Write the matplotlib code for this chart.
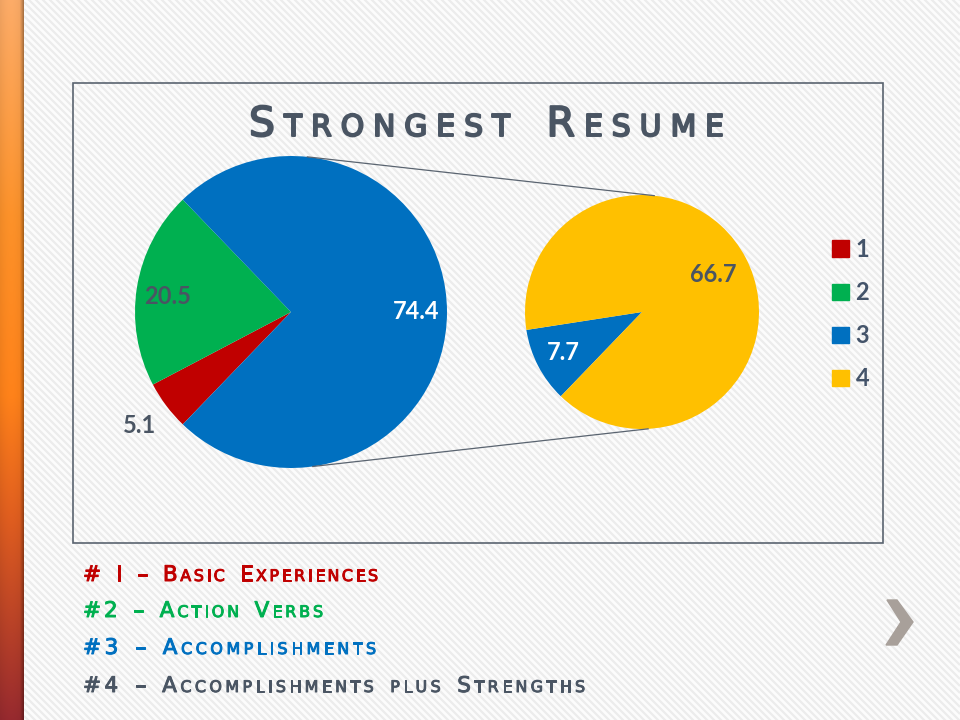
import numpy as np
import matplotlib
matplotlib.use('Agg')
import matplotlib.pyplot as plt
import matplotlib.patheffects as pe
from matplotlib.patches import Rectangle, Polygon, Patch
from matplotlib.collections import LineCollection

# data
main_labels = ['1', '2', 'Other']
main_values = [5.1, 20.5, 74.4]
sub_labels = ['3', '4']
sub_values = [7.7, 66.7]
legend_labels = ['1', '2', '3', '4']
colors = ['#c00000', '#00b050', '#0070c0', '#ffc000']

title = 'Strongest Resume'
notes = ['# I – Basic Experiences', '#2 – Action Verbs',
         '#3 – Accomplishments', '#4 – Accomplishments plus Strengths']
note_colors = ['#c00000', '#00b050', '#0070c0', '#4a5563']

gray = '#44546a'
H = 720

fig = plt.figure(figsize=(9.6, 7.2), dpi=100)
fig.patch.set_facecolor('#fcfcfc')
ax = fig.add_axes([0, 0, 1, 1])
ax.axis('off')
renderer = fig.canvas.get_renderer()

# striped background
segs = [[(24, c - 24), (960, c - 960)] for c in range(0, 1700, 7)]
ax.add_collection(LineCollection(segs, colors='#ececec', linewidths=1.6, zorder=0))

# orange bar on the left
yy = np.linspace(0, 1, 720)
stops = np.array([0, 0.3, 0.55, 0.72, 1.0])
cols = np.array([[0.97, 0.66, 0.40], [0.97, 0.56, 0.16], [0.98, 0.50, 0.10],
                 [0.86, 0.36, 0.12], [0.58, 0.16, 0.18]])
grad = np.stack([np.interp(yy, stops, cols[:, k]) for k in range(3)], axis=1)
xx = np.linspace(0, 1, 24)
shade = 0.92 + 0.1 * np.sin(np.pi * (0.15 + 0.75 * xx))
shade[-4:] *= np.array([0.95, 0.88, 0.8, 0.72])
img = np.clip(grad[:, None, :] * shade[None, :, None], 0, 1)
ax.imshow(img, extent=(0, 24, 0, H), zorder=1, interpolation='bilinear')

# chart frame
ax.add_patch(Rectangle((73, H - 543), 810, 460, fill=False, edgecolor='#5a6470', lw=1.2, zorder=2))


def smallcaps(x0, y, s, size, color, width=None, ratio=0.74, thick=1.0):
    items = []
    for ch in s:
        if ch == ' ':
            items.append((None, size * 0.45 * 100 / 72))
            continue
        big = not ch.islower()
        t = ax.text(0, y, ch.upper(), fontsize=size if big else size * ratio,
                    color=color, family='DejaVu Sans', ha='left', va='baseline', zorder=5,
                    path_effects=[pe.withStroke(linewidth=thick, foreground=color)])
        items.append((t, t.get_window_extent(renderer).width))
    natural = sum(w for _, w in items)
    gap = 0 if width is None else (width - natural) / (len(items) - 1)
    cx = x0
    for t, w in items:
        if t is not None:
            t.set_x(cx)
        cx += w + gap


smallcaps(249, H - 136, title, 29.5, '#4a5563', width=475, ratio=0.73, thick=1.4)

note_base = [581, 617, 654, 692]
note_end = [378, 323, 376, 585]
for s, c, b, e in zip(notes, note_colors, note_base, note_end):
    smallcaps(83, H - b, s, 15.5, c, width=e - 83, thick=0.7)

# pie of pie
S = 360 * (main_values[0] + main_values[1]) / sum(main_values) + 180 * main_values[2] / sum(main_values)
c1, r1 = (291, H - 312), 156
c2, r2 = (642, H - 312), 117
w1, _ = ax.pie(main_values, colors=colors[:3], startangle=S, counterclock=False,
               center=c1, radius=r1, wedgeprops=dict(linewidth=0), frame=True)
w2, _ = ax.pie(sub_values, colors=colors[2:], startangle=S, counterclock=False,
               center=c2, radius=r2, wedgeprops=dict(linewidth=0), frame=True)


def label(w, c, r, val, f, color, da=0):
    a = np.deg2rad((w.theta1 + w.theta2) / 2 + da)
    ax.text(c[0] + f * r * np.cos(a), c[1] + f * r * np.sin(a), f'{val}',
            ha='center', va='center', fontsize=17, fontweight='bold',
            family='Lato', color=color, zorder=5)


for w, v, f, col, da in zip(w1, main_values, [1.21, 0.8, 0.8],
                            ['#4a5563', '#4a5563', 'white'], [0, 2, 0]):
    label(w, c1, r1, v, f, col, da)
for w, v, f, col in zip(w2, sub_values, [0.76, 0.69], ['white', '#4a5563']):
    label(w, c2, r2, v, f, col)

# connector lines
for a1, a2 in [(84, 84), (-82, -87)]:
    p1 = (c1[0] + r1 * np.cos(np.deg2rad(a1)), c1[1] + r1 * np.sin(np.deg2rad(a1)))
    p2 = (c2[0] + r2 * np.cos(np.deg2rad(a2)), c2[1] + r2 * np.sin(np.deg2rad(a2)))
    ax.plot([p1[0], p2[0]], [p1[1], p2[1]], color='#5a6470', lw=0.9, zorder=1.5)

# legend
handles = [Patch(color=c) for c in colors]
ax.legend(handles, legend_labels, loc='upper left', bbox_to_anchor=(832 / 960, 1 - 238 / H),
          bbox_transform=fig.transFigure, frameon=False, borderpad=0, borderaxespad=0,
          handlelength=0.7, handleheight=0.7, handletextpad=0.3, labelspacing=0.85,
          prop={'family': 'Lato', 'weight': 'bold', 'size': 17}, labelcolor=gray)

# next arrow
ax.add_patch(Polygon([(887, H - 600), (897, H - 600), (913, H - 622), (897, H - 645),
                      (886, H - 645), (901, H - 622)], closed=True, color='#a8a09a', zorder=3))

ax.set_xlim(0, 960)
ax.set_ylim(0, H)
ax.set_aspect('equal')
fig.savefig('out.png', dpi=100)
